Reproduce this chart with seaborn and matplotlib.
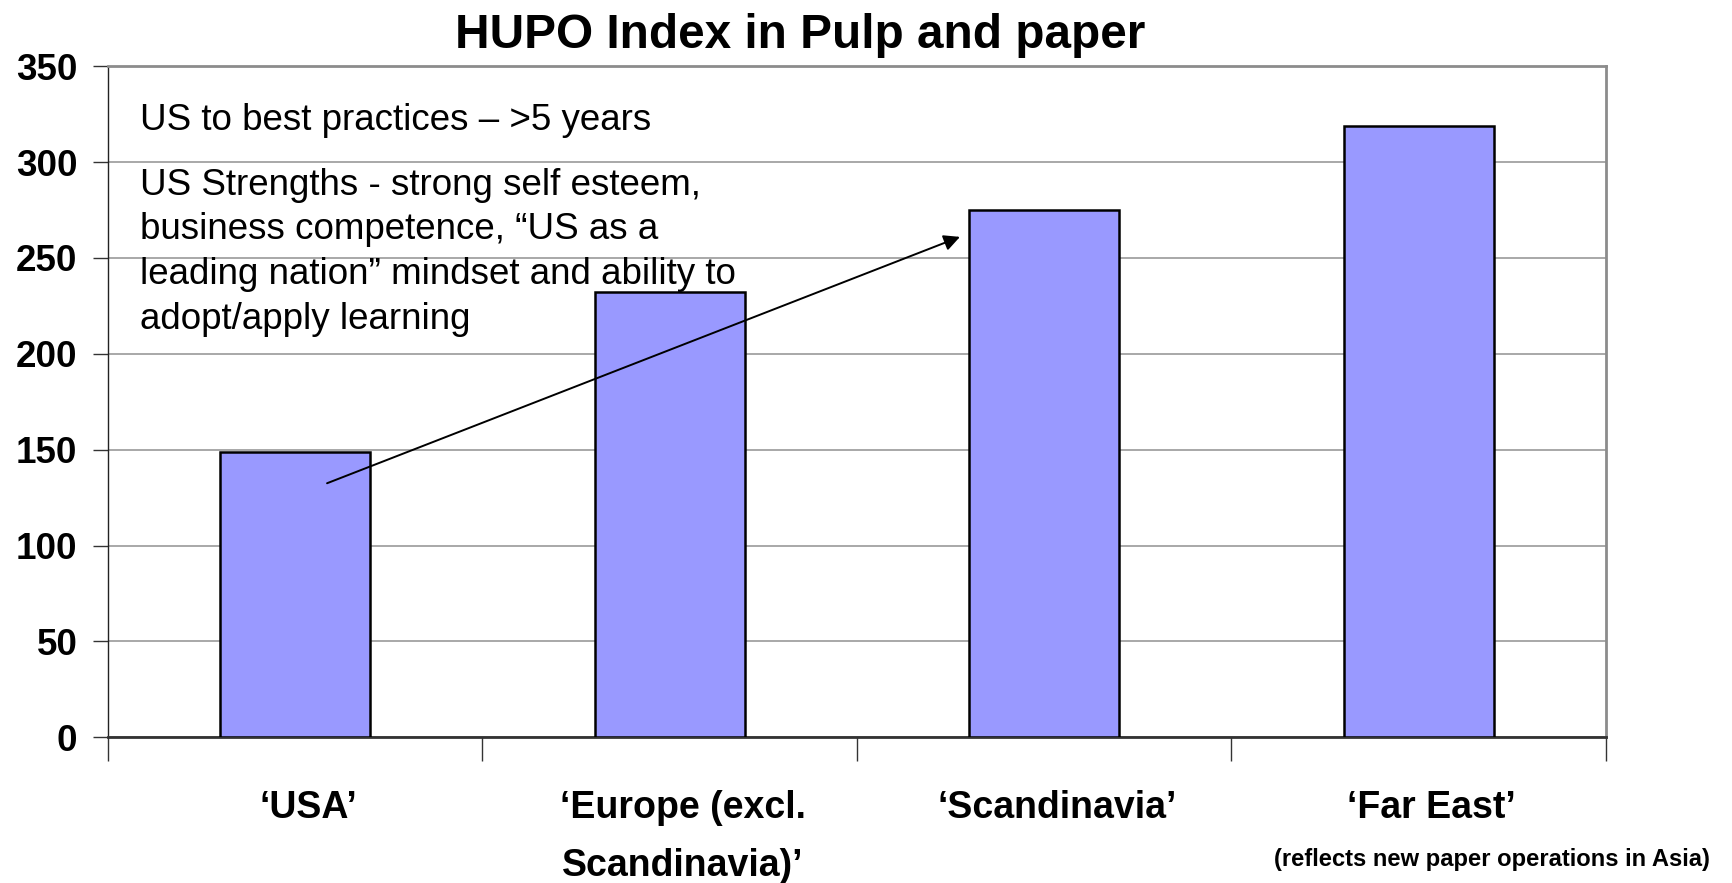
import matplotlib
matplotlib.use("Agg")
import matplotlib.pyplot as plt
import matplotlib.transforms as mtransforms
import seaborn as sns
import pandas as pd

# Chart data
categories = ["\u2018USA\u2019", "\u2018Europe (excl.\nScandinavia)\u2019", "\u2018Scandinavia\u2019", "\u2018Far East\u2019"]
hupo_index = [149, 232, 275, 319]
y_ticks = [0, 50, 100, 150, 200, 250, 300, 350]

title = "HUPO Index in Pulp and paper"
note_gap = "US to best practices \u2013 >5 years"
note_strengths = ("US Strengths - strong self esteem,\n"
                  "business competence, \u201cUS as a\n"
                  "leading nation\u201d mindset and ability to\n"
                  "adopt/apply learning")
far_east_note = "(reflects new paper operations in Asia)"

sns.set_style("white")
plt.rcParams["font.family"] = ["Liberation Sans", "DejaVu Sans"]
for key in ("text.color", "axes.labelcolor", "xtick.color", "ytick.color"):
    plt.rcParams[key] = "black"

df = pd.DataFrame({"region": categories, "index": hupo_index})

fig = plt.figure(figsize=(17.33, 8.83), dpi=100)
ax = fig.add_axes([0.0623, 0.165, 0.8644, 0.760])

sns.barplot(data=df, x="region", y="index", color="#9999FF", saturation=1,
            edgecolor="black", linewidth=1.8, width=0.4, ax=ax, zorder=3)

ax.set_xlim(-0.5, len(categories) - 0.5)
ax.set_ylim(0, 350)
ax.set_yticks(y_ticks)
ax.set_xlabel("")
ax.set_ylabel("")

# horizontal grid
ax.yaxis.grid(True, color="#9a9a9a", linewidth=1.2, zorder=0)
ax.xaxis.grid(False)
ax.set_axisbelow(True)

# frame
for side in ("top", "right"):
    ax.spines[side].set_visible(True)
    ax.spines[side].set_color("#8c8c8c")
    ax.spines[side].set_linewidth(2.0)
ax.spines["left"].set_color("#222222")
ax.spines["left"].set_linewidth(1.0)
ax.spines["bottom"].set_color("#333333")
ax.spines["bottom"].set_linewidth(2.0)

# tick styling
ax.tick_params(axis="y", which="major", left=True, length=11, width=1,
               color="#333333", pad=11, labelsize=26.5)
for lbl in ax.get_yticklabels():
    lbl.set_fontweight("bold")

ax.set_xticks(range(len(categories)))
ax.set_xticklabels(categories)
ax.set_xticks([i - 0.5 for i in range(len(categories) + 1)], minor=True)
ax.tick_params(axis="x", which="major", bottom=False, length=0, pad=38, labelsize=27)
ax.tick_params(axis="x", which="minor", bottom=True, length=17, width=1, color="#333333")
shift = mtransforms.ScaledTranslation(0.13, 0, fig.dpi_scale_trans)
for lbl in ax.get_xticklabels():
    lbl.set_fontweight("bold")
    lbl.set_linespacing(1.8)
    lbl.set_verticalalignment("top")
    lbl.set_transform(lbl.get_transform() + shift)

# title
fig.text(0.4616, 0.9455, title, ha="center", va="baseline",
         fontsize=34.4, fontweight="bold")

# annotation text
ax.text(-0.415, 316.7, note_gap, fontsize=26.5, va="baseline", ha="left")
ax.text(-0.415, 213, note_strengths, fontsize=26.5, va="baseline", ha="left",
        linespacing=1.36)

# trend arrow
ax.annotate("", xy=(1.775, 261), xytext=(0.085, 132.5),
            arrowprops=dict(arrowstyle="-|>", color="black", lw=1.4,
                            mutation_scale=24, shrinkA=0, shrinkB=0),
            zorder=5)

fig.text(0.861, 0.019, far_east_note, ha="center", va="baseline",
         fontsize=17.1, fontweight="bold")

fig.savefig("out.png", dpi=100)
